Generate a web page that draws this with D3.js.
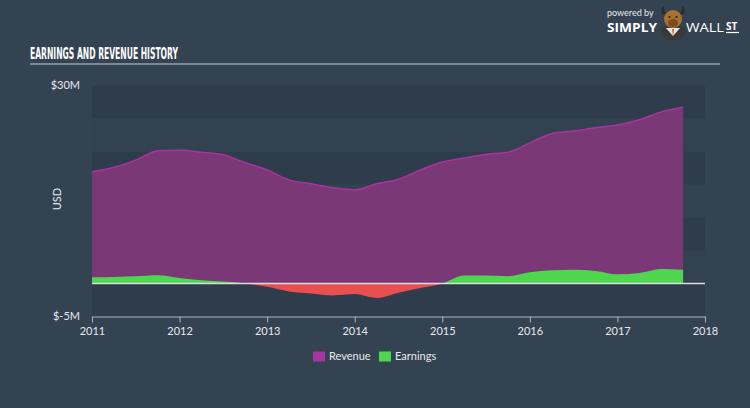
<!DOCTYPE html>
<html><head><meta charset="utf-8">
<script src="https://cdn.jsdelivr.net/npm/d3@7"></script>
<style>
html,body{margin:0;padding:0;background:#344352;}
svg{display:block;}
</style></head>
<body>
<svg id="chart" width="750" height="408"></svg>
<script>
// ---- data ----
const periods = [2011.0,2011.25,2011.5,2011.75,2012.0,2012.25,2012.5,2012.75,2013.0,2013.25,2013.5,2013.75,2014.0,2014.25,2014.5,2014.75,2015.0,2015.25,2015.5,2015.75,2016.0,2016.25,2016.5,2016.75,2017.0,2017.25,2017.5,2017.75];
const revenue = [16.9,17.6,18.7,20.1,20.2,19.9,19.5,18.3,17.2,15.7,15.1,14.5,14.2,15.1,15.8,17.2,18.4,19.0,19.6,19.9,21.3,22.7,23.1,23.6,24.0,24.8,26.0,26.7];
const earnings = [0.95,1.0,1.1,1.25,0.85,0.5,0.3,0.0,-0.5,-1.2,-1.5,-1.8,-1.6,-2.2,-1.4,-0.7,0.0,1.2,1.2,1.1,1.7,2.0,2.1,1.9,1.4,1.6,2.2,2.1];
const xTicks = [2011,2012,2013,2014,2015,2016,2017,2018];
const yTickLabels = ["$30M","$-5M"];
const yTickValues = [30,-5];
const legendItems = ["Revenue","Earnings"];

(function(){
const svg = d3.select("#chart");
const W = 750, H = 408;
const pL = 92, pR = 705, pT = 85.5, pB = 316.5;
const x = d3.scaleLinear().domain([2011,2018]).range([pL,pR]);
const y = d3.scaleLinear().domain([-5,30]).range([pB,pT]);

// background
svg.append("rect").attr("width",W).attr("height",H).attr("fill","#344352");

// bands
const bandEdges = d3.range(-5,30,5);
bandEdges.forEach((v,i)=>{
  svg.append("rect").attr("x",pL).attr("width",pR-pL)
    .attr("y",y(v+5)).attr("height",y(v)-y(v+5))
    .attr("fill", i%2===0 ? "#2e3c4b" : "#334251");
});

// title
svg.append("text").attr("x",30).attr("y",59)
  .attr("font-family","'Liberation Sans Narrow','DejaVu Sans Condensed',sans-serif")
  .attr("font-weight","bold").attr("font-size",15.5).attr("fill","#ffffff")
  .attr("textLength",148).attr("lengthAdjust","spacingAndGlyphs")
  .text("EARNINGS AND REVENUE HISTORY");
svg.append("line").attr("x1",30).attr("x2",720).attr("y1",64).attr("y2",64)
  .attr("stroke","#c9d0d8").attr("stroke-width",1.2);

// logo
const logo = svg.append("g");
logo.append("text").attr("x",607).attr("y",15.5).attr("font-family","Lato,'Open Sans',sans-serif")
  .attr("font-size",9).attr("fill","#e4e8ec").text("powered by");
logo.append("text").attr("x",607).attr("y",32).attr("font-family","'Open Sans',Lato,sans-serif")
  .attr("font-weight","bold").attr("font-size",13).attr("fill","#ffffff")
  .attr("textLength",50).attr("lengthAdjust","spacingAndGlyphs").text("SIMPLY");
logo.append("text").attr("x",686).attr("y",32).attr("font-family","'Open Sans',Lato,sans-serif")
  .attr("font-size",13).attr("fill","#ffffff")
  .attr("textLength",38).attr("lengthAdjust","spacingAndGlyphs").text("WALL");
logo.append("text").attr("x",726).attr("y",30).attr("font-family","'Open Sans',Lato,sans-serif")
  .attr("font-weight","bold").attr("font-size",10).attr("fill","#ffffff").text("ST");
logo.append("line").attr("x1",726).attr("x2",739).attr("y1",32.5).attr("y2",32.5).attr("stroke","#fff").attr("stroke-width",1.2);
// bull head
logo.append("path").attr("d","M662,14 Q660,8 664,6 Q663,11 667,14 Z").attr("fill","#2b2b2b");
logo.append("path").attr("d","M684,14 Q686,8 682,6 Q683,11 679,14 Z").attr("fill","#2b2b2b");
logo.append("path").attr("d","M660,30 Q660,40 673,40 Q686,40 686,30 Q686,26 673,26 Q660,26 660,30 Z").attr("fill","#3a3a3a");
logo.append("path").attr("d","M666,28 L673,36 L680,28 Z").attr("fill","#e8e8e8");
logo.append("path").attr("d","M672,29 L674,29 L673,37 Z").attr("fill","#e0572a");
logo.append("ellipse").attr("cx",673).attr("cy",19).attr("rx",9).attr("ry",9).attr("fill","#a9702e");
logo.append("ellipse").attr("cx",673).attr("cy",23).attr("rx",5).attr("ry",4).attr("fill","#7a4c1e");
logo.append("circle").attr("cx",669.5).attr("cy",17).attr("r",1.1).attr("fill","#222");
logo.append("circle").attr("cx",676.5).attr("cy",17).attr("r",1.1).attr("fill","#222");

// areas
const curve = d3.curveMonotoneX;
const revData = periods.map((p,i)=>({p,v:revenue[i]}));
const earnData = periods.map((p,i)=>({p,v:earnings[i]}));

svg.append("path").datum(revData)
  .attr("d", d3.area().curve(curve).x(d=>x(d.p)).y0(y(0)).y1(d=>y(d.v)))
  .attr("fill","#7a3876");
svg.append("path").datum(revData)
  .attr("d", d3.line().curve(curve).x(d=>x(d.p)).y(d=>y(d.v)))
  .attr("fill","none").attr("stroke","#a8359f").attr("stroke-width",1.5);

const defs = svg.append("defs");
defs.append("clipPath").attr("id","above").append("rect")
  .attr("x",0).attr("y",0).attr("width",W).attr("height",y(0));
defs.append("clipPath").attr("id","below").append("rect")
  .attr("x",0).attr("y",y(0)).attr("width",W).attr("height",H-y(0));
const earnArea = d3.area().curve(curve).x(d=>x(d.p)).y0(y(0)).y1(d=>y(d.v));
svg.append("path").datum(earnData).attr("d",earnArea)
  .attr("fill","#4fd64f").attr("clip-path","url(#above)");
svg.append("path").datum(earnData).attr("d",earnArea)
  .attr("fill","#e8504f").attr("clip-path","url(#below)");

// zero line
svg.append("line").attr("x1",pL).attr("x2",pR).attr("y1",y(0)).attr("y2",y(0))
  .attr("stroke","#d8dde2").attr("stroke-width",1.5);

// x axis
const xAxis = d3.axisBottom(x).tickValues(xTicks).tickFormat(d3.format("d")).tickSize(6).tickSizeOuter(0);
const gx = svg.append("g").attr("transform",`translate(0,${pB})`).call(xAxis);
gx.select(".domain").attr("stroke","#aab4bf");
gx.selectAll(".tick line").attr("stroke","#aab4bf");
gx.selectAll(".tick text").attr("fill","#e6e9ed").attr("font-size",11)
  .attr("font-family","Lato,'Open Sans',sans-serif").attr("dy","0.9em");

// y labels
yTickValues.forEach((v,i)=>{
  svg.append("text").attr("x",80).attr("y",y(v)).attr("dy","0.35em")
    .attr("text-anchor","end").attr("font-size",11)
    .attr("font-family","Lato,'Open Sans',sans-serif").attr("fill","#e6e9ed")
    .text(yTickLabels[i]);
});
svg.append("text").attr("transform",`translate(61,${(pT+pB)/2 - 2}) rotate(-90)`)
  .attr("text-anchor","middle").attr("font-size",11)
  .attr("font-family","Lato,'Open Sans',sans-serif").attr("fill","#e6e9ed").text("USD");

// legend
const legColors = ["#a8359f","#4fd64f"];
const legX = [313,379];
legendItems.forEach((name,i)=>{
  svg.append("rect").attr("x",legX[i]).attr("y",351.5).attr("width",12).attr("height",10).attr("fill",legColors[i]);
  svg.append("text").attr("x",legX[i]+16).attr("y",356.5).attr("dy","0.35em")
    .attr("font-size",11).attr("font-family","Lato,'Open Sans',sans-serif")
    .attr("fill","#e6e9ed").text(name);
});
})();
</script>
</body></html>
